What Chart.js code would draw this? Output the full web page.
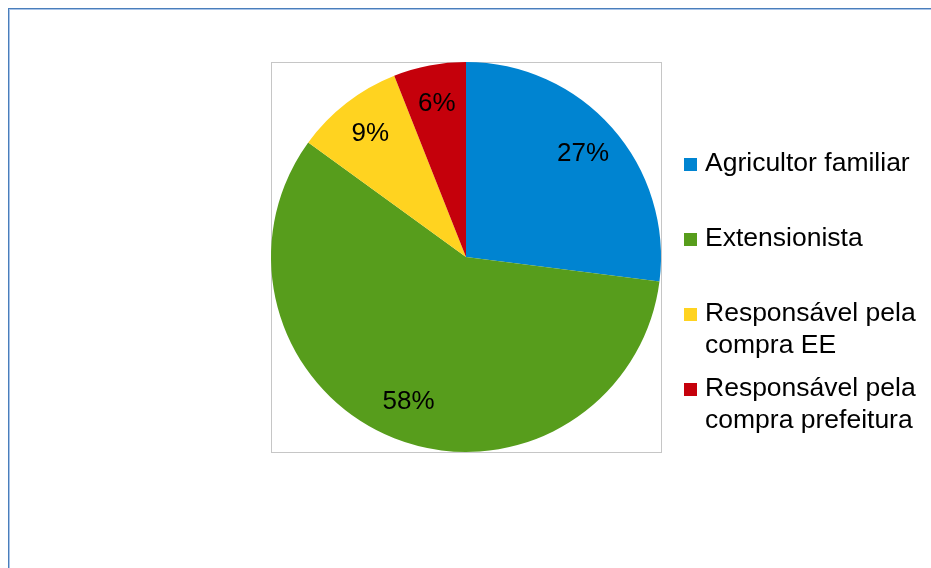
<!DOCTYPE html>
<html>
<head>
<meta charset="utf-8">
<script src="https://cdn.jsdelivr.net/npm/chart.js@4"></script>
<style>
  html, body { margin: 0; padding: 0; background: #ffffff; }
  #wrap { width: 931px; height: 568px; position: relative; }
</style>
</head>
<body>
<div id="wrap"><canvas id="pie"></canvas></div>
<script>
// Categories, values (percent) and colours
const categories = [
  ['Agricultor familiar'],
  ['Extensionista'],
  ['Responsável pela', 'compra EE'],
  ['Responsável pela', 'compra prefeitura']
];
const shares = [27, 58, 9, 6];
const sliceColors = ['#0084d1', '#579d1c', '#ffd320', '#c5000b'];

const FONT = "'Liberation Sans', Arial, sans-serif";

// Outer frame + gray plot box
const framePlugin = {
  id: 'frame',
  beforeDraw(chart) {
    const ctx = chart.ctx;
    const a = chart.chartArea;
    ctx.save();
    ctx.fillStyle = '#ffffff';
    ctx.fillRect(0, 0, chart.width, chart.height);
    ctx.lineWidth = 1;
    ctx.strokeStyle = '#a9c4e8';
    ctx.strokeRect(9.5, 9.5, chart.width + 20, chart.height + 20);
    ctx.strokeStyle = '#4a7ebb';
    ctx.strokeRect(8.5, 8.5, chart.width + 20, chart.height + 20);
    ctx.strokeStyle = '#c6c6c6';
    ctx.strokeRect(a.left + 0.5, a.top + 0.5, a.right - a.left, a.bottom - a.top);
    ctx.restore();
  }
};

// Percent labels inside slices
const labelPlugin = {
  id: 'sliceLabels',
  afterDatasetsDraw(chart) {
    const ctx = chart.ctx;
    const meta = chart.getDatasetMeta(0);
    ctx.save();
    ctx.font = '26px ' + FONT;
    ctx.fillStyle = '#000000';
    ctx.textAlign = 'center';
    ctx.textBaseline = 'middle';
    meta.data.forEach((arc, i) => {
      const p = arc.getProps(['x', 'y', 'startAngle', 'endAngle', 'outerRadius']);
      const mid = (p.startAngle + p.endAngle) / 2;
      const r = p.outerRadius * 0.8;
      ctx.fillText(shares[i] + '%', p.x + Math.cos(mid) * r, p.y + Math.sin(mid) * r);
    });
    ctx.restore();
  }
};

// Legend on the right, with wrapped labels
const legendPlugin = {
  id: 'sideLegend',
  afterDraw(chart) {
    const ctx = chart.ctx;
    const x0 = chart.chartArea.right + 23;
    const startY = 164;
    const step = 75;
    const lineH = 32;
    ctx.save();
    ctx.font = '26.5px ' + FONT;
    ctx.textBaseline = 'middle';
    categories.forEach((lines, i) => {
      const y = startY + i * step;
      ctx.fillStyle = sliceColors[i];
      ctx.fillRect(x0, y - 6, 13, 13);
      ctx.fillStyle = '#000000';
      lines.forEach((t, j) => ctx.fillText(t, x0 + 21, y + j * lineH));
    });
    ctx.restore();
  }
};

new Chart(document.getElementById('pie'), {
  type: 'pie',
  data: {
    labels: categories.map(c => c.join(' ')),
    datasets: [{
      data: shares,
      backgroundColor: sliceColors,
      borderWidth: 0
    }]
  },
  options: {
    responsive: true,
    maintainAspectRatio: false,
    animation: false,
    layout: { padding: { left: 271, right: 270, top: 62, bottom: 116 } },
    plugins: {
      legend: { display: false },
      tooltip: { enabled: false }
    }
  },
  plugins: [framePlugin, labelPlugin, legendPlugin]
});
</script>
</body>
</html>
